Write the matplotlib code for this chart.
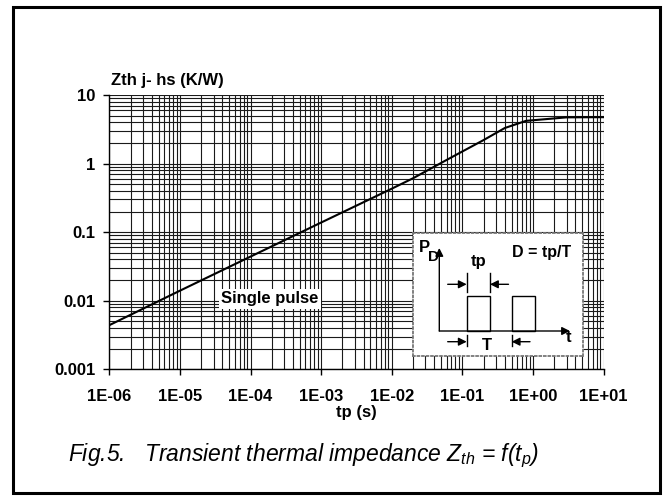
import matplotlib
matplotlib.use("Agg")
import matplotlib.pyplot as plt
from matplotlib.patches import Rectangle
from matplotlib.ticker import FixedLocator, FixedFormatter, LogLocator, NullFormatter
import numpy as np

# ---- data ----
tp = [1e-6, 1e-5, 1e-4, 1e-3, 1e-2, 2e-2, 6e-2, 1e-1, 2e-1, 4e-1, 8e-1, 3.0, 10.0]
zth = [0.0044, 0.014, 0.044, 0.138, 0.43, 0.61, 1.13, 1.5, 2.2, 3.3, 4.2, 4.72, 4.75]
x_ticks = [1e-6, 1e-5, 1e-4, 1e-3, 1e-2, 1e-1, 1e0, 1e1]
x_ticklabels = ["1E-06", "1E-05", "1E-04", "1E-03", "1E-02", "1E-01", "1E+00", "1E+01"]
y_ticks = [0.001, 0.01, 0.1, 1, 10]
y_ticklabels = ["0.001", "0.01", "0.1", "1", "10"]

plt.rcParams['font.family'] = ['Liberation Sans', 'DejaVu Sans']
plt.rcParams['mathtext.fontset'] = 'custom'
plt.rcParams['mathtext.rm'] = 'Liberation Sans'
plt.rcParams['mathtext.it'] = 'Liberation Sans:italic'

W, H = 672, 496
fig = plt.figure(figsize=(W / 100, H / 100), dpi=100)

def fx(x):
    return x / W

def fy(y):
    return 1 - y / H

# outer frame
fig.add_artist(Rectangle((fx(13), fy(493)), fx(660) - fx(13), fy(7) - fy(493),
                         transform=fig.transFigure, fill=False, lw=2.2, ec='black'))

L, R, T, B = 109.3, 603.5, 95, 369.3
ax = fig.add_axes([fx(L), fy(B), fx(R) - fx(L), fy(T) - fy(B)])
ax.set_xscale('log')
ax.set_yscale('log')
ax.set_xlim(1e-6, 10)
ax.set_ylim(0.001, 10)

ax.plot(tp, zth, color='black', lw=1.5, zorder=3)

ax.xaxis.set_major_locator(FixedLocator(x_ticks))
ax.xaxis.set_major_formatter(FixedFormatter(x_ticklabels))
ax.yaxis.set_major_locator(FixedLocator(y_ticks))
ax.yaxis.set_major_formatter(FixedFormatter(y_ticklabels))
ax.xaxis.set_minor_locator(LogLocator(base=10, subs=np.arange(2, 10), numticks=100))
ax.yaxis.set_minor_locator(LogLocator(base=10, subs=np.arange(2, 10), numticks=100))
ax.xaxis.set_minor_formatter(NullFormatter())
ax.yaxis.set_minor_formatter(NullFormatter())

ax.grid(True, which='both', color='#1a1a1a', lw=0.8)
ax.set_axisbelow(True)
for s in ['top', 'right']:
    ax.spines[s].set_visible(False)
for s in ['left', 'bottom']:
    ax.spines[s].set_linewidth(1.0)

ax.tick_params(axis='both', which='major', direction='out', length=4, width=1,
               labelsize=12)
ax.tick_params(axis='both', which='minor', length=0)
ax.tick_params(axis='x', which='major', pad=10)
ax.tick_params(axis='y', which='major', pad=6)
for lab in ax.get_xticklabels() + ax.get_yticklabels():
    lab.set_fontweight('bold')

fig.text(fx(356), fy(412), "tp (s)", ha='center', va='center', fontsize=12, fontweight='bold')
fig.text(fx(111), fy(81), "Zth j- hs (K/W)", ha='left', va='center', fontsize=12, fontweight='bold')

ax.text(1.89e-4, 0.0106, "Single pulse", ha='center', va='center', fontsize=12,
        fontweight='bold', zorder=5,
        bbox=dict(boxstyle='square,pad=0.15', fc='white', ec='none'))

# caption
fig.text(fx(68), fy(456), r"Fig.5.   Transient thermal impedance $Z_{th}$ = f($t_p$)",
         ha='left', va='center', fontsize=16.5, style='italic')

# ---- inset schematic (pixel coordinates) ----
iL, iT, iR, iB = 413, 233, 583, 356
ai = fig.add_axes([fx(iL), fy(iB), fx(iR) - fx(iL), fy(iT) - fy(iB)], zorder=10)
ai.set_xlim(iL, iR)
ai.set_ylim(iB, iT)
ai.set_xticks([])
ai.set_yticks([])
ai.set_facecolor('white')
for s in ai.spines.values():
    s.set_linestyle((0, (1, 1.5)))
    s.set_color('#777777')
    s.set_linewidth(1.3)

ap = dict(arrowstyle='-|>', color='black', lw=1.0, mutation_scale=12, shrinkA=0, shrinkB=0)
# axes
ai.annotate('', xy=(439.3, 248), xytext=(439.3, 331), arrowprops=ap)
ai.annotate('', xy=(570, 331), xytext=(439.3, 331), arrowprops=ap)
# pulses
ai.add_patch(Rectangle((466.7, 296), 23.3, 35, fill=False, lw=1.0, ec='black'))
ai.add_patch(Rectangle((511.7, 296), 23.3, 35, fill=False, lw=1.0, ec='black'))
# tp dimension
ai.plot([466.7, 466.7], [273, 292], color='black', lw=1.0)
ai.plot([490, 490], [273, 292], color='black', lw=1.0)
ai.annotate('', xy=(466.7, 284.3), xytext=(447.7, 284.3), arrowprops=ap)
ai.annotate('', xy=(490, 284.3), xytext=(508.5, 284.3), arrowprops=ap)
# T dimension
ai.plot([466.7, 466.7], [335, 346], color='black', lw=1.0)
ai.plot([511.7, 511.7], [335, 346], color='black', lw=1.0)
ai.annotate('', xy=(466.7, 341.7), xytext=(447.7, 341.7), arrowprops=ap)
ai.annotate('', xy=(511.7, 341.7), xytext=(530, 341.7), arrowprops=ap)

ai.text(424, 247, "P", ha='center', va='center', fontsize=12, fontweight='bold')
ai.text(433, 257, "D", ha='center', va='center', fontsize=11, fontweight='bold')
ai.text(541.7, 252.3, "D = tp/T", ha='center', va='center', fontsize=11.5, fontweight='bold')
ai.text(479, 261.7, "tp", ha='center', va='center', fontsize=12, fontweight='bold')
ai.text(487.3, 345, "T", ha='center', va='center', fontsize=12, fontweight='bold')
ai.text(568.3, 337, "t", ha='center', va='center', fontsize=12, fontweight='bold')

fig.savefig("out.png", dpi=100)
